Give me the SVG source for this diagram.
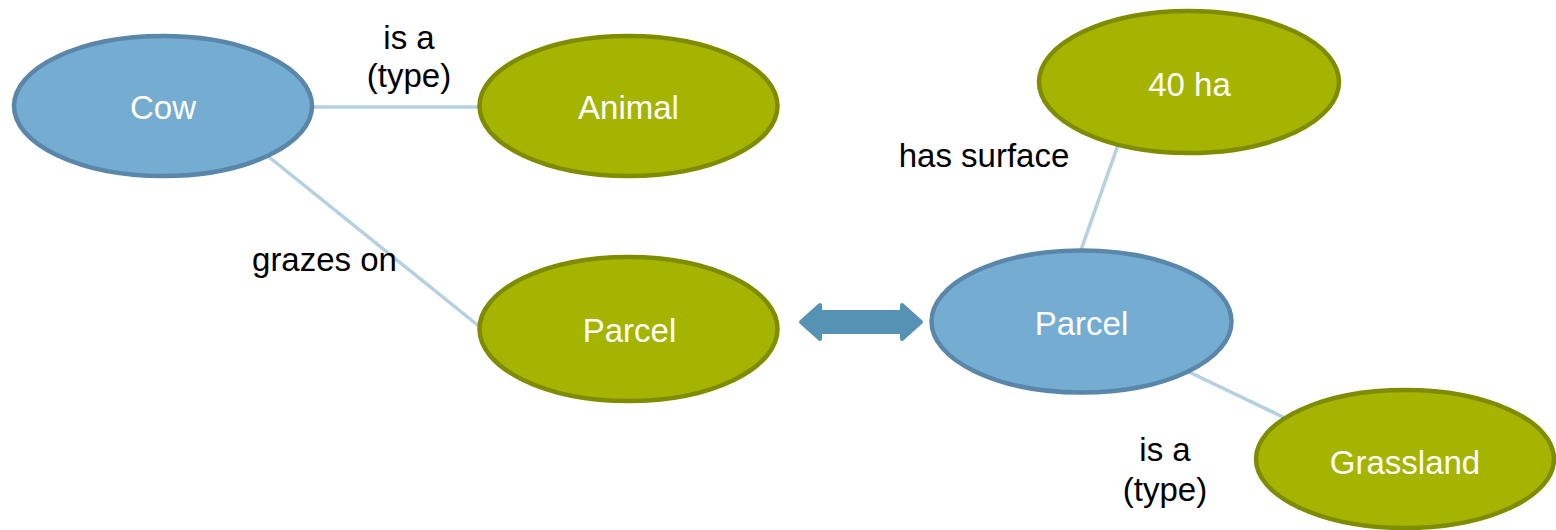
<svg xmlns="http://www.w3.org/2000/svg" width="1556" height="530" viewBox="0 0 1556 530">
  <style>
    .blue ellipse { fill: #74acd2; stroke: #5a87a9; stroke-width: 4.5; }
    .green ellipse { fill: #a5b400; stroke: #7f8c00; stroke-width: 4.5; }
    .node text { font-family: "Liberation Sans", Arial, sans-serif; font-size: 33px; fill: #ffffff; text-anchor: middle; }
    .edge { stroke: #b5d0e1; stroke-width: 3.5; fill: none; }
    .label { font-family: "Liberation Sans", Arial, sans-serif; font-size: 33px; fill: #000000; text-anchor: middle; }
  </style>

  <!-- connectors and their labels -->
  <g id="connectors">
    <line class="edge" x1="313" y1="107" x2="479" y2="107"/>
    <line class="edge" x1="269" y1="157" x2="480" y2="327"/>
    <line class="edge" x1="1118" y1="145" x2="1081" y2="250"/>
    <line class="edge" x1="1187" y1="371" x2="1285" y2="418"/>
    <text class="label" x="409" y="49">is a</text>
    <text class="label" x="409" y="87">(type)</text>
    <text class="label" x="324.5" y="271">grazes on</text>
    <text class="label" x="984" y="167">has surface</text>
    <text class="label" x="1165" y="461">is a</text>
    <text class="label" x="1165" y="501">(type)</text>
    <!-- equivalence arrow between the two Parcel nodes -->
    <polygon points="801,322 820,305 820,312 902,312 902,305 921,322 902,339 902,332 820,332 820,339"
             fill="#5692b4" stroke="#5692b4" stroke-width="4" stroke-linejoin="round"/>
  </g>

  <g id="cow" class="node blue">
    <ellipse cx="163" cy="106" rx="149" ry="70"/>
    <text x="163" y="119">Cow</text>
  </g>

  <g id="animal" class="node green">
    <ellipse cx="628.5" cy="106" rx="149" ry="70"/>
    <text x="628.5" y="119">Animal</text>
  </g>

  <g id="parcel-left" class="node green">
    <ellipse cx="628.5" cy="329" rx="149" ry="72"/>
    <text x="629.5" y="342">Parcel</text>
  </g>

  <g id="surface" class="node green">
    <ellipse cx="1189" cy="82" rx="150" ry="71"/>
    <text x="1189.5" y="96">40 ha</text>
  </g>

  <g id="parcel-right" class="node blue">
    <ellipse cx="1081.5" cy="321.5" rx="150" ry="71"/>
    <text x="1081.5" y="335">Parcel</text>
  </g>

  <g id="grassland" class="node green">
    <ellipse cx="1405" cy="459" rx="149" ry="69"/>
    <text x="1405" y="474">Grassland</text>
  </g>
</svg>
